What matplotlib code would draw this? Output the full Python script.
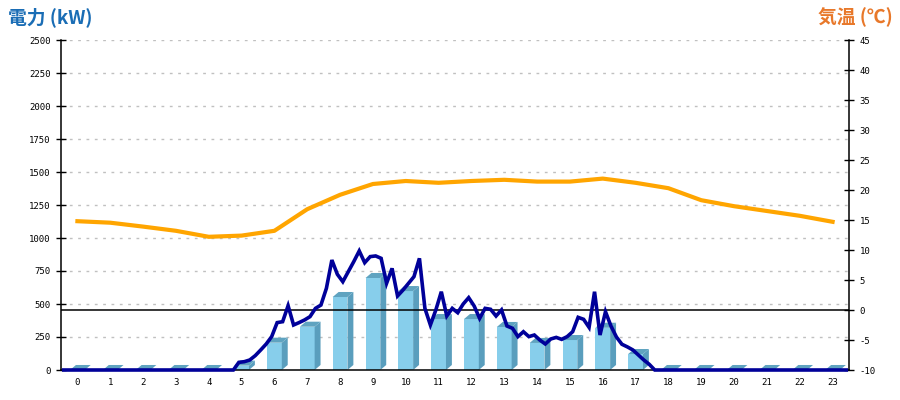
import matplotlib
matplotlib.use("Agg")
import matplotlib.pyplot as plt
from matplotlib.patches import Polygon
import numpy as np

# ---------------- data ----------------
hours = list(range(24))
hour_labels = [str(h) for h in hours]

# hourly power bars (kW)
bar_kw = [0, 0, 0, 0, 0, 33, 207, 328, 553, 697, 598, 386,
          386, 326, 205, 227, 320, 121, 0, 0, 0, 0, 0, 0]

# hourly temperature (deg C)
temp_c = [14.8, 14.55, 13.9, 13.2, 12.2, 12.4, 13.2, 16.8, 19.2, 21.0, 21.5, 21.2,
          21.5, 21.7, 21.4, 21.4, 21.9, 21.2, 20.3, 18.3, 17.3, 16.5, 15.7, 14.7]

# 10-minute power readings (kW), 0:00 .. 23:50
power_night_am = [0] * 31                      # 0:00 - 5:00
power_day = [0, 58, 63, 76, 109, 152, 197, 253, 359, 366,      # 5:10 - 6:40
             487, 341, 359, 379, 404, 467, 492, 619, 833, 725,  # 6:50 - 8:20
             669, 745, 821, 902, 813, 859, 864, 846, 657, 770,  # 8:30 - 10:00
             561, 606, 657, 707, 846, 467, 341, 455, 593, 409,  # 10:10 - 11:40
             467, 434, 500, 548, 485, 391, 467, 460, 409, 455,  # 11:50 - 13:20
             333, 316, 253, 290, 253, 265, 227, 197, 235, 247,  # 13:30 - 15:00
             232, 253, 290, 399, 384, 323, 593, 265, 442, 333,  # 15:10 - 16:40
             250, 195, 175, 152, 114, 76, 43, 0]                # 16:50 - 18:00
power_night_pm = [0] * 35                      # 18:10 - 23:50
power_10min = power_night_am + power_day + power_night_pm
minutes_per_sample = 10

power_ticks = list(range(0, 2501, 250))
temp_ticks = list(range(-10, 46, 5))

# ---------------- styling ----------------
W, H = 900, 400
L, R, T, B = 61, 849, 40, 370
rect = [L / W, 1 - B / H, (R - L) / W, (B - T) / H]

front_col = "#87CEEB"
side_col = "#5A9EBD"
top_col = "#5FA3C0"
blue_col = "#000099"
orange_col = "#FFA500"
tick_font = dict(family="DejaVu Sans Mono", size=6.5)

fig = plt.figure(figsize=(W / 100, H / 100), dpi=100)
ax = fig.add_axes(rect)
ax.set_xlim(-0.5, 23.5)
ax.set_ylim(0, 2500)
ax.set_yticks(power_ticks)
ax.set_yticklabels([str(v) for v in power_ticks], fontdict=tick_font)
ax.set_xticks(hours)
ax.set_xticklabels(hour_labels, fontdict=tick_font)
ax.tick_params(axis="x", length=0, pad=6)
ax.tick_params(axis="y", direction="inout", length=7, width=1, pad=4, colors="black")
for v in power_ticks[1:]:
    ax.axhline(v, color="#c0c0c0", linestyle=(0, (2, 4)), linewidth=1, zorder=0)
for s in ["top", "right"]:
    ax.spines[s].set_visible(False)
ax.spines["left"].set_linewidth(1.1)
ax.spines["bottom"].set_linewidth(1.1)

# 3D-ish bars
half_w = 0.225
dx = 0.18
dy = 38
ax.bar(hours, bar_kw, width=2 * half_w, color=front_col, zorder=2, linewidth=0)
for h, v in zip(hours, bar_kw):
    xl, xr = h - half_w, h + half_w
    side = Polygon([(xr, 0), (xr + dx, dy), (xr + dx, v + dy), (xr, v)],
                   closed=True, facecolor=side_col, edgecolor="none", zorder=2)
    top = Polygon([(xl, v), (xl + dx, v + dy), (xr + dx, v + dy), (xr, v)],
                  closed=True, facecolor=top_col, edgecolor="none", zorder=2)
    ax.add_patch(side)
    ax.add_patch(top)

# temperature axis
ax_t = ax.twinx()
ax_t.set_ylim(-10, 45)
ax_t.set_yticks(temp_ticks)
ax_t.set_yticklabels([str(v) for v in temp_ticks], fontdict=tick_font)
ax_t.tick_params(axis="y", direction="inout", length=7, width=1, pad=4, colors="black")
for s in ["top", "left", "bottom"]:
    ax_t.spines[s].set_visible(False)
ax_t.spines["right"].set_linewidth(1.1)
ax_t.axhline(0, color="black", linewidth=1.1, zorder=3)
ax_t.plot(hours, temp_c, color=orange_col, linewidth=3.0, zorder=4,
          solid_joinstyle="round")

# power line on a time axis (0:00 - 24:00 across the plot)
ax_p = fig.add_axes(rect)
ax_p.patch.set_visible(False)
ax_p.axis("off")
slot = 1 / 6
ax_p.set_xlim(-slot / 2, 24 - slot / 2)
ax_p.set_ylim(0, 2500)
times = np.arange(len(power_10min)) * minutes_per_sample / 60
ax_p.plot(times, power_10min, color=blue_col, linewidth=2.6, clip_on=False,
          solid_joinstyle="miter", zorder=5)

cjk = ["Noto Sans CJK JP", "DejaVu Sans"]
fig.text(8 / W, 1 - 17 / H, "電力 (kW)", ha="left", va="center", color="#1A6DB5",
         fontsize=13.5, fontweight="bold", family=cjk)
fig.text(893 / W, 1 - 17 / H, "気温 (℃)", ha="right", va="center", color="#E8782A",
         fontsize=13.5, fontweight="bold", family=cjk)

fig.savefig("out.png", dpi=100)
